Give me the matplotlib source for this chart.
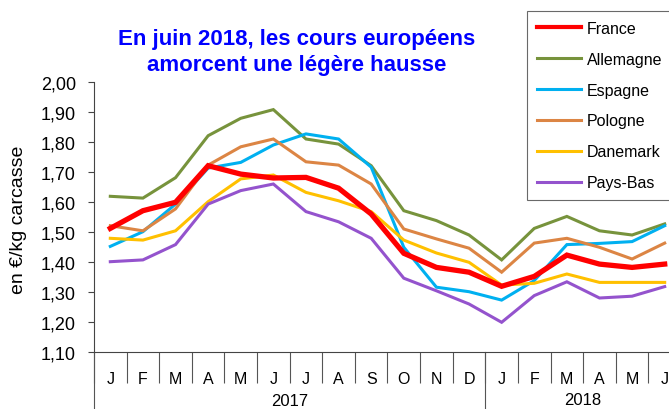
import matplotlib
matplotlib.use("Agg")
import matplotlib.pyplot as plt
import matplotlib.transforms as mtransforms
import numpy as np

plt.rcParams['font.family'] = ['Liberation Sans', 'DejaVu Sans']

months = ["J", "F", "M", "A", "M", "J", "J", "A", "S", "O", "N", "D",
          "J", "F", "M", "A", "M", "J"]
years = ["2017", "2018"]

france = [1.512, 1.571, 1.599, 1.721, 1.693, 1.680, 1.682, 1.646, 1.560, 1.429, 1.382, 1.366,
          1.319, 1.352, 1.423, 1.393, 1.382, 1.393]
allemagne = [1.619, 1.613, 1.681, 1.821, 1.879, 1.908, 1.810, 1.793, 1.721, 1.571, 1.538, 1.490,
             1.407, 1.512, 1.552, 1.504, 1.490, 1.527]
espagne = [1.452, 1.501, 1.593, 1.713, 1.732, 1.790, 1.827, 1.810, 1.716, 1.449, 1.316, 1.301,
           1.273, 1.338, 1.458, 1.462, 1.468, 1.521]
pologne = [1.521, 1.504, 1.577, 1.723, 1.784, 1.810, 1.734, 1.723, 1.660, 1.510, 1.477, 1.446,
           1.366, 1.463, 1.479, 1.449, 1.410, 1.463]
danemark = [1.479, 1.473, 1.504, 1.601, 1.677, 1.690, 1.632, 1.604, 1.568, 1.473, 1.430, 1.399,
            1.323, 1.329, 1.360, 1.332, 1.332, 1.332]
pays_bas = [1.401, 1.407, 1.458, 1.593, 1.638, 1.660, 1.568, 1.534, 1.479, 1.346, 1.304, 1.260,
            1.199, 1.288, 1.334, 1.280, 1.286, 1.318]

series = [
    ("France", france, "#FF0000", 3.8),
    ("Allemagne", allemagne, "#77933C", 2.2),
    ("Espagne", espagne, "#00B0F0", 2.2),
    ("Pologne", pologne, "#DC8544", 2.2),
    ("Danemark", danemark, "#FFC000", 2.2),
    ("Pays-Bas", pays_bas, "#9453CD", 2.2),
]

W, H = 669, 410
fig = plt.figure(figsize=(W / 100, H / 100), dpi=100)
# axis runs a little past the right edge, as in the reference crop
ax = fig.add_axes([94 / W, 1 - 353 / H, 587 / W, 270 / H])

x = np.arange(len(months))
# draw France last so it sits on top, keep legend order
handles = {}
for name, vals, col, lw in series[1:] + series[:1]:
    line, = ax.plot(x, vals, color=col, lw=lw, solid_joinstyle='miter',
                    zorder=3 if name == "France" else 2)
    handles[name] = line

ax.set_xlim(-0.5, len(months) - 0.5)
ax.set_ylim(1.10, 2.00)
ax.set_yticks(np.round(np.arange(1.10, 2.001, 0.10), 2))
ax.set_yticklabels([f"{v:.2f}".replace(".", ",") for v in ax.get_yticks()], fontsize=13)
ax.tick_params(axis='y', direction='out', length=4, width=0.8, color='#444444', pad=9)

ax.set_xticks(x)
ax.set_xticklabels(months, fontsize=11.5)
ax.tick_params(axis='x', which='major', length=0, pad=14)
ax.set_xticks(np.arange(-0.5, len(months), 1.0), minor=True)
ax.tick_params(axis='x', which='minor', direction='out', length=22, width=0.8, color='#555555')

for s in ['top', 'right']:
    ax.spines[s].set_visible(False)
for s in ['left', 'bottom']:
    ax.spines[s].set_color('#444444')
    ax.spines[s].set_linewidth(0.8)

trans = mtransforms.blended_transform_factory(ax.transData, ax.transAxes)
for xb in [-0.5, 11.5]:
    ax.plot([xb, xb], [0, -57 / 270], transform=trans, color='#555555', lw=0.8, clip_on=False)
ax.text(5.5, -49 / 270, years[0], transform=trans, ha='center', va='center', fontsize=12)
ax.text(14.5, -48 / 270, years[1], transform=trans, ha='center', va='center', fontsize=12)

fig.text(19 / W, 1 - 220 / H, "en €/kg carcasse", rotation=90, ha='center', va='center', fontsize=14)

fig.text(297 / W, 1 - 40 / H, "En juin 2018, les cours européens", ha='center', va='center',
         fontsize=16, fontweight='bold', color='#0000FF')
fig.text(297 / W, 1 - 65 / H, "amorcent une légère hausse", ha='center', va='center',
         fontsize=16, fontweight='bold', color='#0000FF')

leg = fig.legend([handles[n] for n, _, _, _ in series], [n for n, _, _, _ in series],
                 loc='upper left', bbox_to_anchor=(527 / W, 1 - 12 / H),
                 fontsize=11.5, frameon=True, fancybox=False, handlelength=2.8,
                 handletextpad=0.35, labelspacing=1.0, borderpad=0.6, borderaxespad=0)
leg.get_frame().set_edgecolor('#444444')
leg.get_frame().set_linewidth(0.8)
for lh in leg.get_lines():
    lh.set_linewidth(2.2)
leg.get_lines()[0].set_linewidth(3.0)

fig.savefig("out.png", dpi=100)
